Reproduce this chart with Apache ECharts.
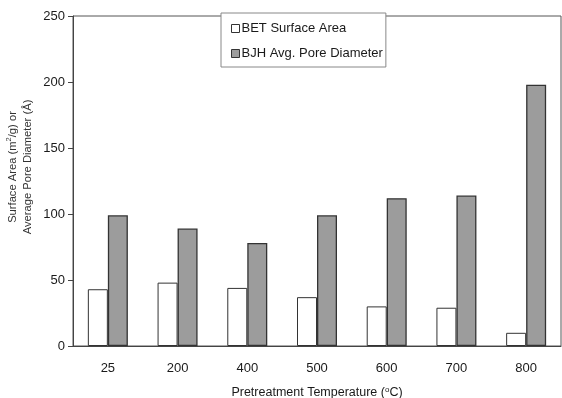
<!DOCTYPE html>
<html><head><meta charset="utf-8">
<script src="https://cdn.jsdelivr.net/npm/echarts@6/dist/echarts.min.js"></script>
<style>html,body{margin:0;padding:0;background:#fff}#c{width:562px;height:398px}</style>
</head><body><div id="c"></div>
<script>
var categories = ['25', '200', '400', '500', '600', '700', '800'];
var betSurfaceArea = [43, 48, 44, 37, 30, 29, 10];
var bjhPoreDiameter = [99, 89, 78, 99, 112, 114, 198];
var yTicks = [0, 50, 100, 150, 200, 250];

var chart = echarts.init(document.getElementById('c'));
var font = 'Liberation Sans, Arial, sans-serif';
chart.setOption({
  animation: false,
  backgroundColor: '#fff',
  grid: { left: 73, right: 1, top: 16, bottom: 52, containLabel: false, outerBoundsMode: 'none',
    show: true, borderColor: '#555', borderWidth: 1, backgroundColor: 'transparent' },
  legend: {
    orient: 'vertical', left: 221, top: 13,
    padding: [9, 3, 7, 10], itemGap: 12,
    backgroundColor: '#fff', borderColor: '#888', borderWidth: 1,
    itemWidth: 8, itemHeight: 8, icon: 'rect', itemStyle: { borderWidth: 1, borderColor: '#333' },
    textStyle: { fontFamily: font, fontSize: 13, color: '#1a1a1a', padding: [0, 0, 0, -3] },
    data: ['BET Surface Area', 'BJH Avg. Pore Diameter']
  },
  xAxis: {
    type: 'category', data: categories,
    axisLine: { lineStyle: { color: '#444' } }, axisTick: { show: false },
    axisLabel: { fontFamily: font, fontSize: 13, color: '#1a1a1a', margin: 16 },
    name: '{a|Pretreatment Temperature (}{s|o}{a|C)}', nameLocation: 'middle', nameGap: 40,
    nameMoveOverlap: false,
    nameTextStyle: { rich: { a: { fontFamily: font, fontSize: 12.5, color: '#1a1a1a' }, s: { fontFamily: font, fontSize: 8, color: '#1a1a1a', verticalAlign: 'top', padding: [0,0,6,0] } } }
  },
  yAxis: {
    type: 'value', min: yTicks[0], max: yTicks[yTicks.length - 1], interval: 50,
    splitLine: { show: false },
    axisLine: { show: true, lineStyle: { color: '#444' } },
    axisTick: { show: true, length: 5, lineStyle: { color: '#444' } },
    axisLabel: { fontFamily: font, fontSize: 13, color: '#1a1a1a', margin: 8 },
    name: '{a|Surface Area (m}{s|2}{a|/g) or}\n{a|Average Pore Diameter (Å)}', nameLocation: 'middle', nameGap: 38, nameRotate: 90,
    nameMoveOverlap: false,
    nameTextStyle: { lineHeight: 15, padding: [0, 0, 0, 28], rich: { a: { fontFamily: font, fontSize: 11.2, color: '#333', lineHeight: 15 }, s: { fontFamily: font, fontSize: 7.5, color: '#333', verticalAlign: 'top', lineHeight: 15, padding: [0,0,6,0] } } }
  },
  series: [
    { name: 'BET Surface Area', type: 'bar', data: betSurfaceArea, barWidth: 20, barGap: '0%',
      itemStyle: { color: '#fff', borderColor: '#333', borderWidth: 1 } },
    { name: 'BJH Avg. Pore Diameter', type: 'bar', data: bjhPoreDiameter, barWidth: 20,
      itemStyle: { color: '#9c9c9c', borderColor: '#333', borderWidth: 1.3 } }
  ]
});
</script></body></html>
